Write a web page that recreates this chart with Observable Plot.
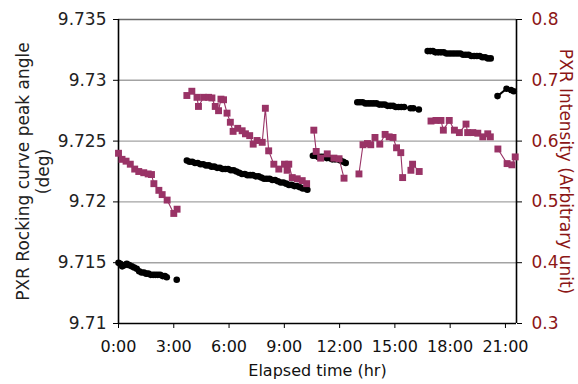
<!DOCTYPE html>
<html>
<head>
<meta charset="utf-8">
<script src="https://cdn.jsdelivr.net/npm/d3@7"></script>
<script src="https://cdn.jsdelivr.net/npm/@observablehq/plot@0.6"></script>
<style>
  html, body { margin: 0; padding: 0; background: #fff; }
  #chart { width: 578px; height: 384px; }
</style>
</head>
<body>
<div id="chart"></div>
<script>
// ---- Tick labels / categories ----
const xTicks = [0, 3, 6, 9, 12, 15, 18, 21];
const leftTicks = [9.71, 9.715, 9.72, 9.725, 9.73, 9.735];
const rightTicks = [0.3, 0.4, 0.5, 0.6, 0.7, 0.8];

// ---- Series 1: PXR rocking curve peak angle (deg), null = gap ----
const angleTime = [
  0.00, 0.10, 0.20, 0.32, 0.45, 0.58, 0.72, 0.85, 0.99, 1.12, 1.25, 1.38, 1.50, 1.62, 1.75, 1.88, 2.00, 2.13, 2.26, 2.40, 2.52, 2.62, null,
  3.16, null,
  3.71, 3.85, 4.00, 4.15, 4.30, 4.45, 4.60, 4.75, 4.90, 5.05, 5.20, 5.35, 5.50, 5.65, 5.80, 5.95, 6.10, 6.25, 6.40, 6.55, 6.70, 6.85, 7.00, 7.15, 7.30, 7.45, 7.60, 7.75, 7.90, 8.05, 8.20, 8.35, 8.50, 8.65, 8.80, 8.95, 9.10, 9.25, 9.40, 9.55, 9.70, 9.85, 10.00, 10.15, 10.25, null,
  10.55, 10.70, 10.85, 11.00, 11.15, 11.30, 11.45, 11.60, 11.75, 11.90, 12.05, 12.20, 12.33, null,
  12.96, 13.10, 13.25, 13.40, 13.55, 13.70, 13.85, 14.00, 14.15, 14.30, 14.45, 14.60, 14.75, 14.90, 15.05, 15.20, 15.35, 15.50, 15.85, 16.00, 16.30, null,
  16.78, 16.92, 17.06, 17.20, 17.35, 17.50, 17.65, 17.80, 17.95, 18.10, 18.25, 18.40, 18.55, 18.70, 18.85, 19.00, 19.15, 19.30, 19.45, 19.60, 19.75, 19.90, 20.05, 20.20, null,
  20.57, 21.06, 21.30, 21.45
];
const angleValue = [
  9.7150, 9.7149, 9.7147, 9.7148, 9.7149, 9.7148, 9.7147, 9.7146, 9.7145, 9.7143, 9.7142, 9.7142, 9.7141, 9.7141, 9.7140, 9.7140, 9.7140, 9.7140, 9.7140, 9.7139, 9.7139, 9.7138, null,
  9.7136, null,
  9.7234, 9.7233, 9.7233, 9.7232, 9.7232, 9.7231, 9.7231, 9.7230, 9.7230, 9.7229, 9.7229, 9.7228, 9.7228, 9.7227, 9.7227, 9.7227, 9.7226, 9.7226, 9.7225, 9.7224, 9.7223, 9.7223, 9.7222, 9.7222, 9.7222, 9.7221, 9.7221, 9.7220, 9.7219, 9.7219, 9.7219, 9.7218, 9.7218, 9.7217, 9.7216, 9.7216, 9.7215, 9.7214, 9.7214, 9.7213, 9.7213, 9.7212, 9.7211, 9.7211, 9.7210, null,
  9.7238, 9.7238, 9.7237, 9.7237, 9.7237, 9.7236, 9.7236, 9.7235, 9.7235, 9.7235, 9.7234, 9.7233, 9.7232, null,
  9.7282, 9.7282, 9.7282, 9.7281, 9.7281, 9.7281, 9.7281, 9.7281, 9.7280, 9.7280, 9.7280, 9.7279, 9.7279, 9.7279, 9.7278, 9.7278, 9.7278, 9.7278, 9.7277, 9.7277, 9.7276, null,
  9.7324, 9.7324, 9.7324, 9.7323, 9.7323, 9.7323, 9.7323, 9.7322, 9.7322, 9.7322, 9.7322, 9.7322, 9.7322, 9.7321, 9.7321, 9.7321, 9.7320, 9.7320, 9.7320, 9.7320, 9.7319, 9.7319, 9.7318, 9.7318, null,
  9.7287, 9.7293, 9.7292, 9.7291
];

// ---- Series 2: PXR intensity (arbitrary unit), null = gap ----
const intensityTime = [
  0.00, 0.19, 0.41, 0.64, 0.88, 1.10, 1.37, 1.61, 1.79, 1.92, 2.19, 2.37, 2.64, 3.00, 3.18, null,
  3.71, 3.98, 4.26, 4.34, 4.62, 4.89, 5.07, 5.25, 5.43, 5.56, 5.70, 5.89, 6.07, 6.22, 6.47, 6.71, 6.89, 7.12, 7.31, 7.52, 7.80, 7.97, 8.15, 8.43, 8.70, 9.01, 9.15, 9.24, 9.43, 9.70, 9.97, 10.21, null,
  10.60, 10.73, 10.97, 11.33, 11.69, 11.97, 12.24, null,
  13.05, 13.27, 13.51, 13.69, 13.92, 14.18, 14.47, 14.69, 14.90, 15.09, 15.32, 15.42, null,
  15.87, 15.96, 16.32, null,
  16.96, 17.23, 17.50, 17.63, 17.95, 18.23, 18.50, 18.86, 18.95, 19.23, 19.50, 19.77, 20.04, 20.18, null,
  20.59, 21.09, 21.35, 21.53
];
const intensityValue = [
  0.580, 0.570, 0.567, 0.562, 0.554, 0.550, 0.548, 0.546, 0.545, 0.530, 0.519, 0.512, 0.503, 0.481, 0.488, null,
  0.675, 0.682, 0.672, 0.657, 0.672, 0.672, 0.671, 0.657, 0.650, 0.669, 0.668, 0.646, 0.631, 0.616, 0.621, 0.617, 0.612, 0.609, 0.595, 0.601, 0.598, 0.654, 0.584, 0.562, 0.554, 0.562, 0.552, 0.562, 0.540, 0.538, 0.535, 0.530, null,
  0.618, 0.583, 0.572, 0.579, 0.572, 0.571, 0.539, null,
  0.546, 0.594, 0.596, 0.594, 0.606, 0.595, 0.611, 0.607, 0.606, 0.589, 0.581, 0.540, null,
  0.552, 0.562, 0.550, null,
  0.633, 0.634, 0.634, 0.618, 0.634, 0.618, 0.614, 0.628, 0.614, 0.614, 0.613, 0.607, 0.612, 0.607, null,
  0.587, 0.563, 0.561, 0.574
];

// ---- Build tables ----
const Y0 = 9.71, Y1 = 9.735, R0 = 0.3, R1 = 0.8;
const toLeft = v => Y0 + (v - R0) * (Y1 - Y0) / (R1 - R0);
const toRight = d => R0 + (d - Y0) * (R1 - R0) / (Y1 - Y0);

const angle = angleTime.map((t, i) => ({t, v: angleValue[i]}));
const intensity = intensityTime.map((t, i) => ({t, v: intensityValue[i] == null ? null : toLeft(intensityValue[i])}));

const pink = "#993366";
const darkRed = "#8c1616";
const font = "DejaVu Sans";

const chart = Plot.plot({
  width: 578,
  height: 384,
  marginLeft: 118,
  marginRight: 62,
  marginTop: 19,
  marginBottom: 61,
  style: {fontFamily: font, fontSize: "16px", background: "#fff", color: "#222", overflow: "visible"},
  x: {domain: [0, 21.6]},
  y: {domain: [Y0, Y1]},
  marks: [
    Plot.ruleY(leftTicks.slice(1, 5), {stroke: "#a3a3a3", strokeWidth: 1.4}),
    Plot.ruleY([Y1], {stroke: "#6a6a6a", strokeWidth: 1.4}),
    Plot.axisY(leftTicks, {
      anchor: "left", tickSize: 5, tickPadding: 7, fontSize: 17, label: null,
      tickFormat: d => String(+d.toFixed(3)), stroke: "#000", fill: "#222"
    }),
    Plot.axisY(rightTicks.map(toLeft), {
      anchor: "right", tickSize: 5, tickPadding: 10, fontSize: 17, label: null,
      tickFormat: d => toRight(d).toFixed(1), stroke: "#000", fill: darkRed
    }),
    Plot.axisX(xTicks, {
      anchor: "bottom", tickSize: 5, tickPadding: 12, fontSize: 16, label: null,
      tickFormat: d => `${d}:00`, stroke: "#000", fill: "#111"
    }),
    Plot.ruleX([0], {stroke: "#000", strokeWidth: 1.6}),
    Plot.ruleX([21.6], {stroke: "#000", strokeWidth: 1.6}),
    Plot.ruleY([Y0], {stroke: "#000", strokeWidth: 1.6}),
    // Peak angle series
    Plot.line(angle, {x: "t", y: "v", stroke: "#000", strokeWidth: 2}),
    Plot.dot(angle.filter(d => d.v != null), {x: "t", y: "v", r: 3.3, fill: "#000", stroke: "none"}),
    // Intensity series
    Plot.line(intensity, {x: "t", y: "v", stroke: pink, strokeWidth: 1.1}),
    Plot.dot(intensity.filter(d => d.v != null), {x: "t", y: "v", symbol: "square", r: 3.9, fill: pink, stroke: "none"}),
    // Axis titles
    Plot.text(["PXR Rocking curve peak angle\n(deg)"], {
      frameAnchor: "left", dx: -86, rotate: -90, fontSize: 17, lineHeight: 1.2,
      fill: "#222", textAnchor: "middle", lineAnchor: "middle"
    }),
    Plot.text(["PXR Intensity (Arbitrary unit)"], {
      frameAnchor: "right", dx: 49, rotate: 90, fontSize: 17,
      fill: darkRed, textAnchor: "middle", lineAnchor: "middle"
    }),
    Plot.text(["Elapsed time (hr)"], {
      frameAnchor: "bottom", dy: 47, fontSize: 16,
      fill: "#111", textAnchor: "middle", lineAnchor: "middle"
    })
  ]
});
document.getElementById("chart").appendChild(chart);
</script>
</body>
</html>
